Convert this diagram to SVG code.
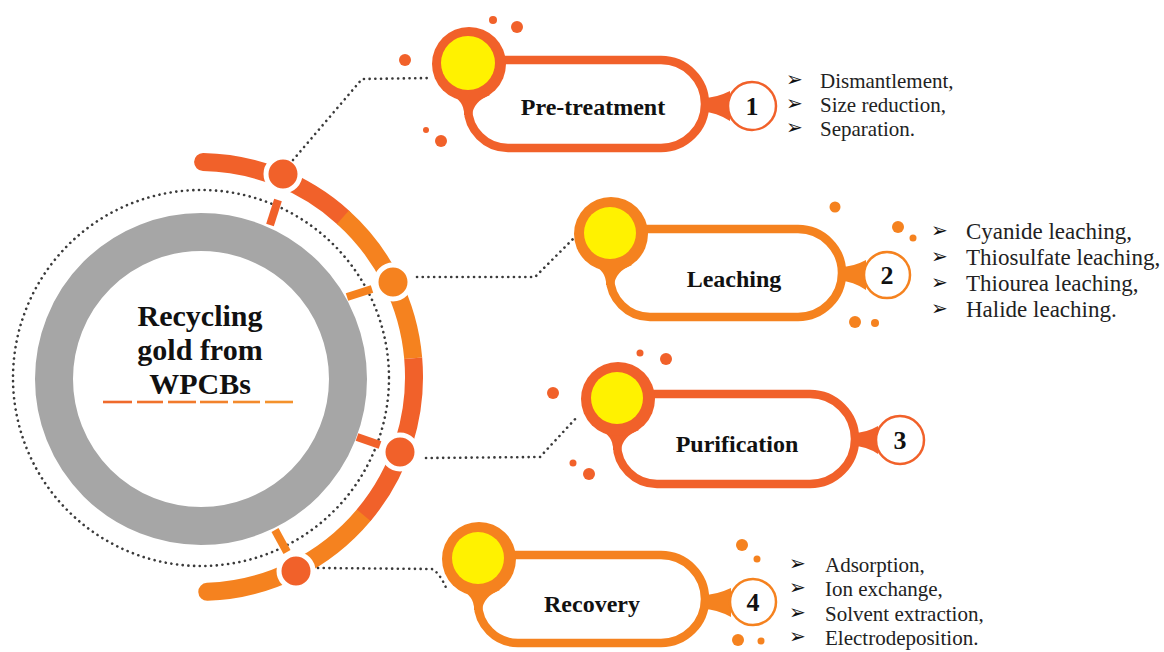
<svg xmlns="http://www.w3.org/2000/svg" width="1164" height="652" viewBox="0 0 1164 652">
<style>
.ro{fill:#F1612A}
.or{fill:#F5821F}
.yel{fill:#FFF200}
.pillro{fill:none;stroke:#F1612A;stroke-width:8.5}
.pillor{fill:none;stroke:#F5821F;stroke-width:8.5}
.numro{fill:#fff;stroke:#F1612A;stroke-width:2.5}
.numor{fill:#fff;stroke:#F5821F;stroke-width:2.5}
.lbl{font-family:"Liberation Serif",serif;font-weight:bold;font-size:24px;fill:#111;text-anchor:middle}
.num{font-family:"Liberation Serif",serif;font-weight:bold;font-size:26px;fill:#111;text-anchor:middle}
.li{font-family:"Liberation Serif",serif;font-size:21px;fill:#222}
.li2{font-family:"Liberation Serif",serif;font-size:23px;fill:#222}
.ar{font-family:"DejaVu Sans",sans-serif;font-size:20px;fill:#111}
.dot{fill:none;stroke:#3a3a3a;stroke-width:2.6;stroke-linecap:round;stroke-dasharray:0.1 5.6}
.arc{fill:none;stroke-width:18}
.tick{stroke-width:8}
.node{stroke:#fff;stroke-width:5}
.title{font-family:"Liberation Serif",serif;font-weight:bold;font-size:30px;fill:#111;text-anchor:middle}
</style>
<rect width="1164" height="652" fill="#fff"/>

<g id="hub">
<circle cx="201" cy="378" r="188" class="dot"/>
<circle cx="201" cy="379" r="147" fill="none" stroke="#A6A6A6" stroke-width="38"/>
<text class="title" x="200" y="326">Recycling</text>
<text class="title" x="200" y="360">gold from</text>
<text class="title" x="200" y="394">WPCBs</text>
<g stroke-width="2.6">
<line x1="103" y1="402" x2="132" y2="402" stroke="#EF6A2C"/>
<line x1="137" y1="402" x2="163" y2="402" stroke="#F0722C"/>
<line x1="168" y1="402" x2="196" y2="402" stroke="#F17A2C"/>
<line x1="200" y1="402" x2="228" y2="402" stroke="#F2822C"/>
<line x1="233" y1="402" x2="260" y2="402" stroke="#F38A2C"/>
<line x1="265" y1="402" x2="293" y2="402" stroke="#F4922C"/>
</g>
</g>

<g id="arc">
<path class="arc" stroke="#F1612A" stroke-linecap="round" d="M203.1 162 A215 215 0 0 1 342.9 217.2"/>
<path class="arc" stroke="#F5821F" stroke-linecap="round" d="M363.7 515.2 A215 215 0 0 1 207.3 591.8"/>
<path class="arc" stroke="#F5821F" d="M342.9 217.2 A215 215 0 0 1 413.2 358.3"/>
<path class="arc" stroke="#F1612A" d="M413.2 358.3 A215 215 0 0 1 363.7 515.2"/>
<line class="tick" stroke="#F1612A" x1="270" y1="225" x2="278" y2="200"/>
<line class="tick" stroke="#F5821F" x1="347" y1="297" x2="372" y2="289"/>
<line class="tick" stroke="#F1612A" x1="357" y1="437" x2="380" y2="445"/>
<line class="tick" stroke="#F5821F" x1="275" y1="530" x2="287" y2="552"/>
<circle class="node ro" cx="283" cy="174" r="17"/>
<circle class="node or" cx="393" cy="282" r="17"/>
<circle class="node ro" cx="400" cy="452" r="17"/>
<circle class="node ro" cx="296" cy="571" r="17"/>
</g>

<g id="connectors">
<path class="dot" d="M293 160 L362 79 L432 78"/>
<path class="dot" d="M417 277 L535 277 L575 237"/>
<path class="dot" d="M426 458 L540 457 L578 416"/>
<path class="dot" d="M318 568 L432 569 Q440 573 447 590"/>
</g>

<g id="stage1">
<path class="pillro" d="M468 93 L468 108 A40 40 0 0 0 508 148 L661 148 A44 44 0 0 0 661 60 L488 60"/>
<path class="ro" d="M448 93 Q465 101 464 115 L472 115 Q474 101 490 95 Z"/>
<circle class="ro" cx="469" cy="64" r="37"/>
<circle class="yel" cx="468" cy="63" r="27"/>
<path class="ro" d="M703 98 Q716 98 730 91 L730 121 Q716 112 703 112 Z"/>
<circle class="numro" cx="752" cy="106" r="24"/>
<text class="num" x="752" y="115">1</text>
<text class="lbl" x="593" y="115">Pre-treatment</text>
<circle class="ro" cx="493" cy="20" r="4"/>
<circle class="ro" cx="517" cy="27" r="6"/>
<circle class="ro" cx="405" cy="60" r="6"/>
<circle class="ro" cx="426" cy="130" r="3"/>
<circle class="ro" cx="441" cy="141" r="6"/>
</g>
<g id="list1">
<text class="ar" x="786" y="86">➢</text><text class="li" x="820" y="88">Dismantlement,</text>
<text class="ar" x="786" y="110">➢</text><text class="li" x="820" y="112">Size reduction,</text>
<text class="ar" x="786" y="134">➢</text><text class="li" x="820" y="136">Separation.</text>
</g>

<g id="stage2">
<path class="pillor" d="M610 263 L610 277 A40 40 0 0 0 650 317 L798 317 A44 44 0 0 0 798 229 L630 229"/>
<path class="or" d="M590 263 Q607 271 606 285 L614 285 Q616 271 632 265 Z"/>
<circle class="or" cx="611" cy="234" r="37"/>
<circle class="yel" cx="610" cy="233" r="26"/>
<path class="or" d="M840 267 Q853 267 866 260 L866 290 Q853 281 840 281 Z"/>
<circle class="numor" cx="887" cy="275" r="23"/>
<text class="num" x="887" y="284">2</text>
<text class="lbl" x="734" y="287">Leaching</text>
<circle class="or" cx="835" cy="207" r="5.5"/>
<circle class="or" cx="898" cy="227" r="6"/>
<circle class="or" cx="913" cy="238" r="3.5"/>
<circle class="or" cx="855" cy="322" r="6"/>
<circle class="or" cx="875" cy="323" r="4"/>
</g>
<g id="list2">
<text class="ar" x="931" y="237">➢</text><text class="li2" x="966" y="239">Cyanide leaching,</text>
<text class="ar" x="931" y="263">➢</text><text class="li2" x="966" y="265">Thiosulfate leaching,</text>
<text class="ar" x="931" y="289">➢</text><text class="li2" x="966" y="291">Thiourea leaching,</text>
<text class="ar" x="931" y="315">➢</text><text class="li2" x="966" y="317">Halide leaching.</text>
</g>

<g id="stage3">
<path class="pillro" d="M617 428 L617 444 A40 40 0 0 0 657 484 L810 484 A45 45 0 0 0 810 394 L637 394"/>
<path class="ro" d="M597 428 Q614 436 613 450 L621 450 Q623 436 639 430 Z"/>
<circle class="ro" cx="618" cy="399" r="37"/>
<circle class="yel" cx="617" cy="398" r="26"/>
<path class="ro" d="M853 433 Q866 433 878 426 L878 454 Q866 446 853 446 Z"/>
<circle class="numro" cx="900" cy="440" r="24"/>
<text class="num" x="900" y="449">3</text>
<text class="lbl" x="737" y="452">Purification</text>
<circle class="ro" cx="640" cy="353" r="3.5"/>
<circle class="ro" cx="666" cy="359" r="6"/>
<circle class="ro" cx="553" cy="393" r="6"/>
<circle class="ro" cx="573" cy="463" r="3.5"/>
<circle class="ro" cx="589" cy="474" r="6"/>
</g>

<g id="stage4">
<path class="pillor" d="M478 588 L478 603 A40 40 0 0 0 518 643 L661 643 A44 44 0 0 0 661 555 L498 555"/>
<path class="or" d="M458 588 Q475 596 474 610 L482 610 Q484 596 500 590 Z"/>
<circle class="or" cx="479" cy="559" r="37"/>
<circle class="yel" cx="478" cy="558" r="26"/>
<path class="or" d="M703 595 Q716 595 731 588 L731 617 Q716 609 703 609 Z"/>
<circle class="numor" cx="753" cy="602" r="23"/>
<text class="num" x="753" y="611">4</text>
<text class="lbl" x="592" y="612">Recovery</text>
<circle class="or" cx="742" cy="545" r="6"/>
<circle class="or" cx="757" cy="559" r="3.5"/>
<circle class="or" cx="738" cy="640" r="6"/>
<circle class="or" cx="761" cy="641" r="3.5"/>
</g>
<g id="list4">
<text class="ar" x="789" y="570">➢</text><text class="li" x="825" y="572">Adsorption,</text>
<text class="ar" x="789" y="594">➢</text><text class="li" x="825" y="596">Ion exchange,</text>
<text class="ar" x="789" y="619">➢</text><text class="li" x="825" y="621">Solvent extraction,</text>
<text class="ar" x="789" y="643">➢</text><text class="li" x="825" y="645">Electrodeposition.</text>
</g>
</svg>
